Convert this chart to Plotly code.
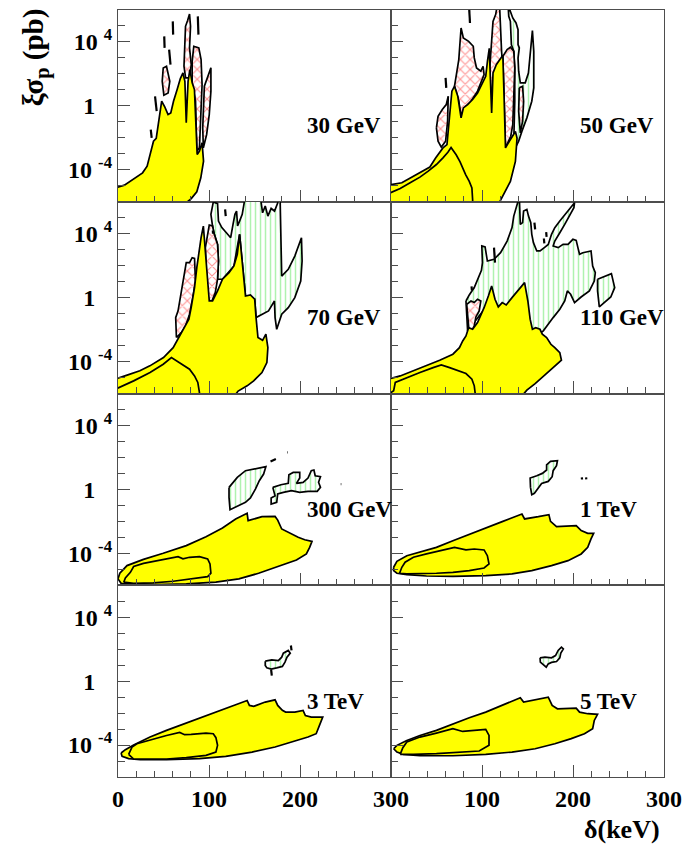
import plotly.graph_objects as go

# Contour regions of the (delta, xi*sigma_p) plane, one panel per WIMP mass.
# Every point is (delta in keV, log10 of xi*sigma_p in pb).

# ---- 30 GeV ----
Y30 = [(-3, -6.6), (-3, -5.13), (7, -4.96), (17, -4.6), (27, -4.19), (32, -3.77), (36, -2.83),
       (39, -2.21), (42, -2.04), (45, -0.96), (48, 0.29), (51.5, -0.08), (55, -0.54), (58, -0.44),
       (61, 0.29), (65, 1.02), (68.5, 1.71), (71.4, 2.06), (73.5, 1.54), (75, -1.06), (77, 1.54),
       (79, 2.27), (81.5, 1.44), (84, 1.02), (87, -3.04), (89.5, -2.83), (92.4, -2.31), (94, -3.46),
       (91, -4.5), (86.6, -5.38), (80.5, -5.8), (75, -6.06), (72, -6.6)]
R30_A = [(48.6, 1.54), (49.7, 2.375), (53.3, 2.48), (56.9, 1.54), (55.1, 0.81), (50.4, 0.67)]
R30_B = [(72.5, 2.48), (74.2, 4.98), (76.4, 5.33), (78.6, 5.75), (79.7, 4.98), (78.6, 3.63),
         (80.5, 2.58), (78.6, 1.75), (74.3, 1.75)]
R30_C = [(81.5, 2.79), (83.3, 3.73), (88.8, 3.63), (91.3, 2.9), (92.4, 1.33), (91.3, -0.33),
         (89.5, -2.63), (86.6, -2.83), (85.2, 0.29), (81.5, 1.44)]
R30_D = [(93.1, -1.38), (94.9, 1.23), (102.1, 2.38), (102.1, 0.92), (100.3, -0.54), (97.4, -1.79),
         (93.8, -2.63)]
M30 = [[(60.2, 5.29), (60.6, 4.46)], [(50.8, 4.35), (51.2, 3.63)], [(56.2, 3.52), (57.7, 2.58)],
       [(87.7, 5.6), (88.4, 4.46)], [(40.7, 0.6), (42.5, -0.33)], [(36, -1.48), (37, -2.0)]]

# ---- 50 GeV ----
Y50 = [(-3, -6.6), (-3, -4.96), (11.9, -4.81), (22.8, -4.46), (33.6, -4.13), (42.7, -3.83),
       (49.2, -3.25), (52.8, -2.94), (57.1, -2.63), (61.5, -2.42), (64.4, -0.33), (66.9, 0.92),
       (69.8, 1.23), (73.4, 0.6), (77, -0.75), (79.5, -0.13), (84.2, 0.08), (89.7, 0.4), (95.1, 0.81),
       (99.8, 1.33), (104.1, 1.85), (106, 2.8), (108, 3.6), (110.6, -0.44), (112.1, 2.06),
       (115.7, 2.58), (120.4, 3.0), (122.9, 3.17), (124.4, 0.29), (125.8, -2.63), (130.2, -2.2),
       (136.7, -1.6), (138.5, -2.02), (136.7, -3.48), (131.2, -4.73), (122.2, -5.67),
       (116.8, -6.17), (114, -6.6)]
Y50_IN = [(-3, -5.5), (10.1, -5.17), (21, -4.81), (31.8, -4.46), (40.9, -4.08), (49.9, -3.67),
          (57.1, -3.25), (62.5, -2.9), (66, -2.6), (71.6, -3.06), (75.9, -3.5), (78.8, -3.9),
          (82, -4.3), (86, -4.73), (88.9, -5.13), (89.7, -5.87), (90, -6.6), (-3, -6.6)]
R50_A = [(49.9, -1.38), (51.7, -0.65), (56.4, -0.23), (60.7, 0.08), (62.9, 0.6), (62.2, -0.96),
         (60, -2.21), (55.3, -2.58), (51.7, -2.21)]
R50_B = [(69.8, 1.23), (72.3, 2.06), (74.5, 2.9), (77, 4.875), (79.5, 4.25), (85.3, 4.04),
         (90.4, 3.73), (91.5, 3.0), (94, 2.375), (98.7, 2.17), (101.2, 2.48), (102.3, 1.96),
         (95.1, 0.92), (87.9, 0.29), (82.4, -0.02), (78.8, -0.33), (77, -0.65), (74.5, 0.29),
         (71.6, 0.92)]
R50_C = [(108.5, 2.375), (110.6, 4.46), (112.1, 5.29), (115, 5.71), (116.8, 6.3), (119.3, 6.3),
         (120.4, 4.46), (121.5, 3.42), (122.2, 2.9), (120.4, 1.33), (118.6, 0.29), (115, -0.23),
         (110.6, -0.44), (109.5, 1.13)]
R50_D = [(122.9, 3.1), (127.6, 3.52), (131.2, 3.67), (134.9, 3.42), (136, 2.375), (134.9, 0.29),
         (133.8, -1.17), (131.6, -1.9), (128, -2.31), (125.8, -2.63), (124.4, 0.29)]
R50_E = [(141, 1.13), (144.6, 1.23), (145.7, 0.29), (144.6, -0.96), (142.1, -1.69), (140.3, -0.33)]
G50 = [(128.7, 6.3), (132.3, 5.71), (133.8, 5.5), (137.4, 5.19), (139.6, 4.77), (139.6, 3.83),
       (141, 3.63), (139.6, 3.0), (140.3, 2.17), (142.1, 1.44), (147.5, 1.44), (151, 2.06),
       (153.3, 3.42), (155.4, 4.71), (156.9, 3.42), (156.9, 1.13), (154.7, 0.29), (149.3, -0.75),
       (143.9, -1.58), (140.3, -2.21), (136.6, -2.63), (134.9, -2.21), (136, 0.29), (136, 2.375),
       (134.9, 3.42), (132.3, 3.83), (131.2, 5.29), (129.4, 5.6)]
M50 = [[(86, 6.0), (86.8, 5.19)], [(60, 1.75), (60.7, 1.13)]]

# ---- 70 GeV ----
Y70 = [(-3, -6.6), (-3, -5.1), (10, -4.85), (24, -4.58), (35, -4.27), (50, -3.75), (60.6, -3.13),
       (66, -2.6), (71.4, -1.98), (77.9, -1.35), (80.4, -0.63), (84.1, 0.63), (86.6, 1.88),
       (88.8, 2.92), (91.3, 3.75), (93.8, 4.48), (96, 2.92), (98.5, 1.25), (100.3, -0.21),
       (103.9, -0.21), (109.4, 0.42), (114.8, 1.15), (122, 1.56), (127.4, 1.98), (131.1, 2.71),
       (133.6, 3.96), (135.8, 2.71), (138.3, 1.46), (140.1, 0.1), (145.5, 0.17), (150.2, -0.1),
       (151.7, -1.25), (153.8, -2.5), (158.9, -2.67), (162.5, -2.29), (164.7, -3.13),
       (163.6, -4.06), (158.2, -4.69), (149.1, -5.21), (141.9, -5.52), (132, -5.85), (122, -6.6)]
Y70_IN = [(-3, -5.73), (17.2, -5.21), (35.2, -4.69), (49.7, -4.17), (58.7, -3.75), (64.2, -3.96),
          (73.2, -4.27), (78.6, -4.48), (84.1, -4.9), (87.7, -5.31), (89.5, -5.94), (90, -6.6),
          (-3, -6.6)]
R70_A = [(96, 3.13), (98.5, 3.85), (100.3, 4.54), (103.9, 4.48), (105.8, 3.96), (109.4, 3.33),
         (110.4, 2.29), (109.4, 1.15), (106.9, 0.31), (103.2, -0.21), (99.6, -0.17), (97.4, 0.83),
         (96.7, 2.08)]
R70_B = [(64.2, -2.5), (63.4, -1.25), (66, -0.83), (69.6, 0.42), (72.1, 1.04), (75, 2.19),
         (78.6, 2.19), (81.5, 2.5), (84.1, 2.46), (85.1, 1.04), (82.2, 0), (78.6, -1.04),
         (74.3, -1.77), (69.6, -2.19)]
G70 = [(104.7, 5.98), (109.4, 5.88), (110.4, 4.79), (114.1, 4.38), (119.1, 4.06), (123.8, 3.75),
       (126.4, 4.58), (128.5, 5.21), (130.3, 5.42), (131.4, 4.48), (133.6, 4.79), (136.5, 5.21),
       (138.7, 5.94), (140.8, 6.3), (156.4, 6.3), (158.9, 5.31), (161.8, 5.73), (164.7, 5.1),
       (168.3, 5.58), (172, 5.42), (175.6, 5.94), (178.1, 6.3), (179.9, 1.35), (187.1, 1.77),
       (194.3, 2.6), (201.6, 3.75), (202.3, 2.29), (200.8, 1.04), (194.3, 0), (187.1, -0.63),
       (179.9, -1.04), (174.4, -1.98), (172.6, -1.25), (171.9, -0.21), (165.4, -0.83),
       (158.2, -1.04), (151.7, -1.25), (150.2, -0.1), (140.1, 0.1), (133.6, 3.96), (127.4, 1.98),
       (114.8, 1.15), (109.4, 1.15), (110.4, 2.29), (109.4, 3.33), (105.8, 3.96), (103.9, 4.48),
       (102.1, 5.21)]
M70 = [[(117.7, 5.52), (118.4, 5.1)], [(104.2, 4.2), (104.4, 4.0)]]

# ---- 110 GeV ----
Y110 = [(-3, -6.6), (-3, -5.1), (10.1, -4.9), (24.6, -4.58), (39, -4.27), (53.5, -3.92), (68, -3.54),
        (75.2, -3.13), (78.8, -2.71), (82.4, -2.4), (85.3, -1.88), (89.7, -1.98), (95.1, -1.56),
        (102.3, -0.63), (107, 0.1), (110.6, 0.73), (114.3, -0.1), (117.9, -0.58), (122.2, -0.31),
        (126.6, -0.46), (133, 0), (140.3, 0.52), (146.8, 0.94), (150.4, -0.21), (152.9, -1.35),
        (155.4, -1.98), (159, -1.88), (163.7, -1.98), (166.3, -2.29), (171, -2.5), (175.7, -2.92),
        (180, -3.13), (185.5, -3.44), (187.3, -3.92), (181.9, -4.21), (169.2, -4.83),
        (158.4, -5.38), (149.3, -5.79), (143.9, -6.15), (141, -6.6)]
Y110_IN = [(-3, -6.04), (2.9, -5.83), (4.7, -5.31), (17.4, -5), (31.8, -4.69), (46.3, -4.38),
           (55.3, -4.21), (64.4, -4.38), (73.4, -4.58), (82.4, -4.75), (88.9, -5.1), (91.5, -5.52),
           (92.6, -6.04), (93, -6.6), (-3, -6.6)]
R110 = [(83.2, -0.42), (87.9, -0.21), (91.5, -0.31), (95.1, -0.1), (98.7, -0.21), (96.9, -0.83),
        (93.3, -1.21), (91.5, -1.77), (89, -2.08), (86.1, -2.29), (84.3, -1.15)]
G110 = [(82.4, -0.21), (86, 0.17), (91.5, 0.63), (96.2, 1.21), (99.4, 1.71), (100.5, 2.19),
        (99.8, 3.23), (103.4, 3.17), (105.9, 2.29), (113.2, 2.4), (120.4, 2.81), (127.6, 3.54),
        (133, 4.38), (134.9, 5.1), (138.5, 5.88), (141, 6.3), (142.1, 4.58), (144.6, 4.69),
        (145.7, 5.42), (149.3, 5.52), (151.1, 5.1), (153.6, 4.69), (154.7, 3.96), (156.5, 3.44),
        (160.2, 2.92), (163.8, 2.92), (168.5, 3.13), (172.8, 3.33), (176.4, 3.96), (180, 4.38),
        (185.5, 4.79), (192.7, 5.31), (198.1, 5.73), (201.7, 5.94), (201, 5.63), (196.3, 5.1),
        (190.9, 4.58), (185.5, 4.06), (180, 3.54), (178.2, 3.23), (183.7, 3.13), (189.1, 3.33),
        (194.5, 3.33), (199.9, 3.65), (203.5, 3.58), (205.4, 3.13), (207.2, 2.71), (210.8, 2.81),
        (219.8, 2.92), (221.6, 1.98), (224.5, 1.56), (223.4, 1.04), (218, 0.42), (208.9, 0.04),
        (201.7, -0.31), (197.4, 0.21), (193.8, 0.42), (190.9, -0.21), (185.5, -0.73),
        (178.2, -1.25), (172.8, -1.67), (167.4, -2.08), (162, -2.29), (147.5, -1.88),
        (104.1, -0.63), (89.7, -1.67), (84.2, -2.08)]
G110_ISLAND = [(227, 1.15), (242.2, 1.5), (245.8, 0.63), (241.5, 0.04), (228.9, -0.58), (227, 0.42)]
M110 = [[(113.2, 3.13), (114.3, 2.19)], [(157.6, 4.69), (158.4, 4.27)], [(170.5, 4.1), (171, 3.8)],
        [(168, 3.7), (168.5, 3.4)], [(88.5, 0.7), (88.9, 0.45)]]

# ---- 300 GeV ----
Y300 = [(0, -5.6), (2, -5.25), (9.9, -4.77), (28, -4.38), (49.7, -4), (75, -3.52), (96.7, -2.96),
        (114.8, -2.42), (129.3, -1.85), (141.9, -1.5), (143, -1.96), (158.2, -1.71), (172.6, -1.69),
        (175.5, -1.92), (179.9, -2.48), (187.1, -2.69), (198, -3), (205.2, -3.15), (213.2, -3.25),
        (210.6, -3.63), (207, -4.04), (196.1, -4.42), (176.2, -4.83), (154.5, -5.25),
        (132.8, -5.6), (107.5, -5.81), (75, -5.92), (42.5, -5.96), (17.2, -5.92), (3.4, -5.88)]
Y300_IN = [(6.3, -5.81), (8.1, -5.54), (13.6, -5.19), (17.2, -4.83), (28, -4.63), (42.5, -4.46),
           (56.9, -4.29), (66, -4.21), (71.4, -4.35), (78.6, -4.25), (89.5, -4.21), (98.5, -4.35),
           (101.1, -4.67), (102.1, -5.25), (98.5, -5.46), (82.2, -5.6), (60.6, -5.75),
           (38.9, -5.85), (17.2, -5.88)]
G300_A = [(122, 0.125), (125.6, 0.375), (131.1, 0.75), (140.1, 1.17), (151, 1.27), (162.5, 1.42),
          (160, 0.96), (155.3, 0.54), (151, 0.02), (145.5, -0.54), (140.1, -0.81), (132.8, -1.02),
          (123.1, -1.27), (122, -0.5)]
G300_B = [(170.1, 0.125), (179.1, 0.29), (187.1, 0.375), (187.8, 0.92), (192.5, 1.06),
          (199.7, 1.06), (199.7, 0.71), (196.1, 0.375), (203.4, 0.44), (208.8, 0.71),
          (212.4, 1.17), (215.3, 1.21), (216.7, 0.85), (222.5, 0.79), (220.4, 0.44),
          (222.5, 0.125), (218.9, -0.125), (208.8, -0.125), (199.7, -0.19), (190.7, -0.08),
          (181.7, -0.19), (175.5, -0.29), (174.4, -0.81), (168.3, -0.92), (168.3, -0.54),
          (172.6, -0.4)]
M300 = [[(167.6, 1.75), (173.5, 1.9)], [(186.2, 2.31), (186.8, 2.31)], [(244.8, 0.33), (245.4, 0.33)]]

# ---- 1 TeV ----
Y1T = [(2.9, -4.875), (6.5, -4.5), (17.4, -4.15), (31.8, -3.94), (49.9, -3.63), (68, -3.21),
       (86, -2.83), (104.1, -2.44), (122.2, -2.02), (143.9, -1.54), (146.8, -1.85), (161.9, -1.71),
       (173.5, -1.58), (175.3, -2), (181.9, -2.33), (203.5, -2.27), (209, -2.58), (216.2, -2.75),
       (222.7, -2.75), (219.8, -3.1), (216.2, -3.63), (209, -4.04), (194.5, -4.46), (176.4, -4.77),
       (154.7, -5.08), (133, -5.29), (104.1, -5.4), (68, -5.44), (39, -5.42), (17.4, -5.33),
       (6.5, -5.25), (2.9, -5.08)]
Y1T_IN = [(9.4, -5.25), (11.9, -4.875), (15.5, -4.56), (24.6, -4.25), (39, -4.04), (53.5, -3.83),
          (69.8, -3.63), (82.4, -3.79), (91.5, -3.73), (102.3, -3.79), (105.9, -4.15),
          (107.7, -4.67), (102.3, -4.92), (86, -5.08), (68, -5.19), (49.9, -5.25), (31.8, -5.29),
          (17.4, -5.29)]
G1T = [(153.3, 0.125), (152.9, 0.71), (160.2, 0.85), (166.3, 1), (171, 1.21), (171, 1.54),
       (175.3, 1.75), (182.9, 1.79), (181.9, 1.48), (178.2, 1.17), (177.1, 0.79), (172.8, 0.5),
       (165.5, 0.375), (162, 0.08), (157.6, -0.25), (154.7, -0.33)]
M1T = [[(209.7, 0.75), (209.9, 0.62)], [(214.4, 0.75), (214.6, 0.62)]]

# ---- 3 TeV ----
Y3T = [(3.4, -4.5), (8.1, -4.29), (17.2, -4), (35.2, -3.5), (53.3, -3.08), (75, -2.63),
       (96.7, -2.15), (118.4, -1.73), (132.8, -1.42), (141.9, -1.21), (144.4, -1.52),
       (149.1, -1.58), (161.8, -1.31), (172.6, -1.17), (175.5, -1.52), (180.6, -1.83),
       (184.2, -1.94), (194.3, -1.94), (203.4, -1.83), (205.9, -2.15), (212.4, -2.25),
       (225, -2.25), (221.4, -2.77), (217.8, -3.29), (208.8, -3.5), (190.7, -3.81),
       (172.6, -4.125), (147.3, -4.44), (118.4, -4.71), (89.5, -4.85), (53.3, -4.92),
       (24.4, -4.92), (11.7, -4.85), (4.5, -4.71)]
Y3T_IN = [(11.7, -4.58), (15.4, -4.125), (20.8, -3.92), (35.2, -3.67), (53.3, -3.4), (67.8, -3.21),
          (73.2, -3.35), (80.4, -3.33), (96.7, -3.25), (104.7, -3.29), (107.6, -3.54),
          (109.4, -4.02), (107.6, -4.44), (96.7, -4.65), (75, -4.79), (53.3, -4.875),
          (31.6, -4.9), (17.2, -4.875)]
G3T = [(161.8, 1.25), (169, 1.33), (176.2, 1.29), (179.9, 1.5), (181.7, 1.75), (187.1, 1.92),
       (189.3, 1.75), (185.7, 1.5), (183.5, 1.19), (180.6, 0.92), (174.4, 0.83), (168.3, 0.75),
       (163.6, 0.83), (161.8, 0.98)]
M3T = [[(190, 2.23), (190.7, 1.92)], [(168.3, 0.71), (169, 0.35)]]

# ---- 5 TeV ----
Y5T = [(2.9, -4.23), (6.5, -4.02), (17.4, -3.71), (31.8, -3.4), (49.9, -3.08), (68, -2.67),
       (86, -2.29), (104.1, -1.94), (122.2, -1.52), (142.1, -1.04), (145.7, -1.31), (158.4, -1.17),
       (172.8, -1), (177.1, -1.52), (182.9, -1.73), (203.5, -1.69), (207.2, -1.94), (216.2, -2.04),
       (227, -2.08), (223.4, -2.46), (221.6, -2.98), (212.6, -3.29), (198.1, -3.6), (180, -3.92),
       (158.4, -4.23), (133, -4.44), (104.1, -4.58), (68, -4.67), (31.8, -4.67), (13.7, -4.58),
       (6.5, -4.44)]
Y5T_IN = [(10.1, -4.58), (13, -4.17), (17.4, -3.81), (31.8, -3.5), (49.9, -3.25), (68, -2.98),
          (78.8, -3.15), (89.7, -3.08), (104.1, -3.02), (107.7, -3.4), (107.7, -4.02),
          (96.9, -4.375), (75.2, -4.46), (49.9, -4.54), (24.6, -4.58)]
G5T = [(163.8, 1.46), (169.2, 1.5), (176.4, 1.46), (180.8, 1.6), (183.7, 1.92), (187.3, 2.125),
       (189.4, 2.02), (186.6, 1.75), (185.5, 1.46), (181.9, 1.23), (176.4, 1.17), (172.8, 1.08),
       (170.6, 0.875), (167.4, 1.04), (164.1, 1.19)]

PANELS = [
    dict(label="30 GeV", green=[], red=[R30_A, R30_B, R30_C, R30_D], yellow=[Y30], marks=M30),
    dict(label="50 GeV", green=[G50], red=[R50_A, R50_B, R50_C, R50_D, R50_E], yellow=[Y50, Y50_IN], marks=M50),
    dict(label="70 GeV", green=[G70], red=[R70_A, R70_B], yellow=[Y70, Y70_IN], marks=M70),
    dict(label="110 GeV", green=[G110, G110_ISLAND], red=[R110], yellow=[Y110, Y110_IN], marks=M110),
    dict(label="300 GeV", green=[G300_A, G300_B], red=[], yellow=[Y300, Y300_IN], marks=M300),
    dict(label="1 TeV", green=[G1T], red=[], yellow=[Y1T, Y1T_IN], marks=M1T),
    dict(label="3 TeV", green=[G3T], red=[], yellow=[Y3T, Y3T_IN], marks=M3T),
    dict(label="5 TeV", green=[G5T], red=[], yellow=[Y5T, Y5T_IN], marks=[]),
]

X_RANGE = [0, 300]
X_MAJOR = [0, 100, 200, 300]
X_TICKTEXT_LEFT = ["0", "100", "200", "300"]
X_TICKTEXT_RIGHT = ["", "100", "200", "300"]   # the shared "300|0" position is labelled once
X_MINOR = [0, 20, 40, 60, 80, 100, 120, 140, 160, 180, 200, 220, 240, 260, 280, 300]
LOG_RANGE = [-6, 6]
Y_DECADES = [-5, -4, -3, -2, -1, 0, 1, 2, 3, 4, 5]
Y_LABELLED = [-4, 0, 4]
Y_TICKTEXT = ["10 <sup>-4</sup>", "1\u2002\u2009", "10 <sup>4</sup>"]
LABEL_X = 205
LABEL_LOG = -1.25

FONT = "Liberation Serif"
FRAME = "#4d4d4d"
YELLOW = "#ffff00"
RED = "#ff2a2a"
GREEN = "#5fe65f"
OUTLINE = dict(color="black", width=1.7)

fig = go.Figure()


def add_region(pts, xa, ya, fillcolor="white", pattern=None):
    xs = [p[0] for p in pts] + [pts[0][0]]
    ys = [10 ** p[1] for p in pts] + [10 ** pts[0][1]]
    kw = dict(x=xs, y=ys, mode="lines", fill="toself", fillcolor=fillcolor, line=OUTLINE,
              hoverinfo="skip", showlegend=False, xaxis=xa, yaxis=ya)
    if pattern is not None:
        kw["fillpattern"] = pattern
    fig.add_trace(go.Scatter(**kw))


for i, panel in enumerate(PANELS):
    sfx = "" if i == 0 else str(i + 1)
    xa, ya = "x" + sfx, "y" + sfx
    for poly in panel["green"]:
        add_region(poly, xa, ya, pattern=dict(shape="|", fgcolor=GREEN, bgcolor="white",
                                              size=5, solidity=0.3))
    for poly in panel["red"]:
        add_region(poly, xa, ya, pattern=dict(shape="x", fgcolor=RED, bgcolor="white",
                                              size=7, solidity=0.3))
    for poly in panel["yellow"]:
        add_region(poly, xa, ya, fillcolor=YELLOW)
    for seg in panel["marks"]:
        fig.add_trace(go.Scatter(x=[p[0] for p in seg], y=[10 ** p[1] for p in seg], mode="lines",
                                 line=dict(color="black", width=2.2), hoverinfo="skip",
                                 showlegend=False, xaxis=xa, yaxis=ya))
    fig.add_annotation(x=LABEL_X, y=LABEL_LOG, xref=xa, yref=ya, text=panel["label"],
                       showarrow=False, xanchor="left", yanchor="middle",
                       font=dict(family=FONT, size=23, color="black", weight="bold"))

layout = dict(width=691, height=846, margin=dict(l=118, r=21, t=9, b=69),
              plot_bgcolor="white", paper_bgcolor="white", showlegend=False, hovermode=False)
tick_font = dict(family=FONT, size=24, color="black", weight="bold")
for i in range(len(PANELS)):
    r, c = divmod(i, 2)
    sfx = "" if i == 0 else str(i + 1)
    layout["xaxis" + sfx] = dict(
        domain=[0.5 * c, 0.5 * c + 0.5], anchor="y" + sfx, range=X_RANGE,
        showline=True, mirror=True, linecolor=FRAME, linewidth=1.3,
        showgrid=False, zeroline=False, ticks="inside", tickmode="array", tickvals=X_MAJOR,
        ticktext=X_TICKTEXT_LEFT if c == 0 else X_TICKTEXT_RIGHT,
        ticklen=12, tickwidth=1.2, tickcolor=FRAME, showticklabels=(r == 3), tickfont=tick_font,
        minor=dict(tickmode="array", tickvals=X_MINOR, ticks="inside", ticklen=6, tickwidth=1.2,
                   tickcolor=FRAME, showgrid=False))
    layout["yaxis" + sfx] = dict(
        domain=[0.75 - 0.25 * r, 1.0 - 0.25 * r], anchor="x" + sfx, type="log", range=LOG_RANGE,
        showline=True, mirror=True, linecolor=FRAME, linewidth=1.3,
        showgrid=False, zeroline=False, ticks="inside", tickmode="array",
        tickvals=[10.0 ** e for e in Y_LABELLED], ticktext=Y_TICKTEXT,
        ticklen=12, tickwidth=1.2, tickcolor=FRAME, showticklabels=(c == 0), tickfont=tick_font,
        minor=dict(tickmode="array", tickvals=[10.0 ** e for e in Y_DECADES], ticks="inside",
                   ticklen=7, tickwidth=1.2, tickcolor=FRAME, showgrid=False))
fig.update_layout(**layout)

fig.add_annotation(x=-0.152, y=1.005, xref="paper", yref="paper", text="ξσ<sub>p</sub> (pb)",
                   textangle=-90, showarrow=False, xanchor="center", yanchor="top",
                   font=dict(family=FONT, size=29, color="black", weight="bold"))
fig.add_annotation(x=0.997, y=-0.068, xref="paper", yref="paper", text="δ(keV)",
                   showarrow=False, xanchor="right", yanchor="middle",
                   font=dict(family=FONT, size=26, color="black", weight="bold"))

fig.write_html("out.html")
